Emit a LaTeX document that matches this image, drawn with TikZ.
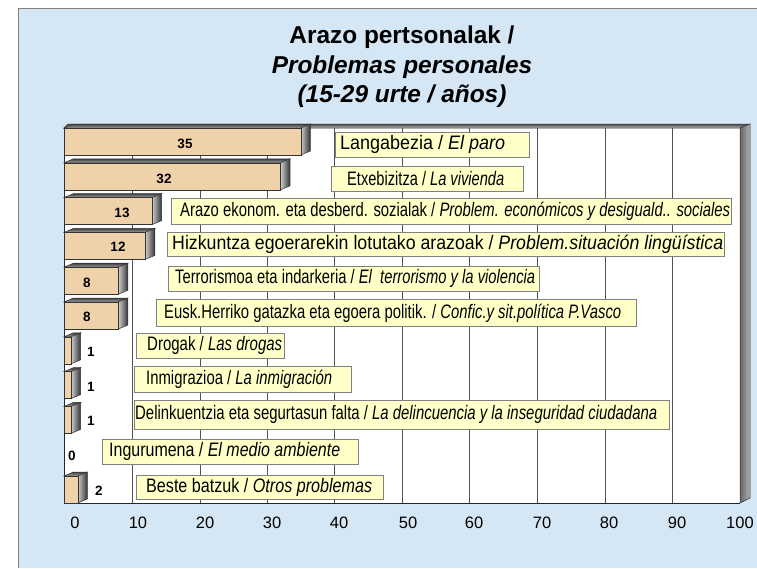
\documentclass[tikz,border=0pt]{standalone}
\usepackage{fontspec}
\setmainfont{Liberation Sans}
\usepackage{graphicx}
\usetikzlibrary{positioning}
\definecolor{bgColor}{HTML}{D5E6F4}
\definecolor{barColor}{HTML}{EFD2AA}
\definecolor{boxColor}{HTML}{FFFFC8}
\definecolor{gridColor}{HTML}{505050}

% 3d bar: #1 = top y, #2 = right x of the front face
\newcommand{\tdbar}[2]{%
  \shadedraw[bartop] (64,#1) -- (73.5,#1-4) -- (#2+9.5,#1-4) -- (#2,#1) -- cycle;
  \shadedraw[barside] (#2,#1) -- (#2+9.5,#1-4) -- (#2+9.5,#1+23) -- (#2,#1+27) -- cycle;
  \filldraw[barfront] (64,#1) rectangle (#2,#1+27);
}
% squeeze a label to a given width (pt), height kept
\newsavebox{\lblsave}
\newcommand{\lblfit}[2]{%
  \sbox{\lblsave}{#2}%
  \pgfmathsetmacro{\lblscale}{#1/\the\wd\lblsave}%
  \scalebox{\lblscale}[1]{\usebox{\lblsave}}%
}

\begin{document}
\begin{tikzpicture}[x=1pt,y=-1pt,
frame/.style={draw=black!50,line width=1pt},
gridline/.style={draw=gridColor,line width=0.8pt},
axisline/.style={draw=black!85,line width=1pt},
bartop/.style={draw=black!80,line width=0.5pt,top color=black!75,bottom color=black!35},
barside/.style={draw=black!80,line width=0.5pt,left color=black!20,right color=black!80},
barfront/.style={draw=black!80,line width=0.6pt,fill=barColor},
lblbox/.style={draw=black!50,fill=boxColor,line width=0.8pt,inner sep=0,anchor=north west},
lbltxt/.style={inner sep=0,font=\fontsize{19.5}{21}\selectfont},
vallbl/.style={inner sep=0,font=\fontsize{13.5}{15}\selectfont\bfseries},
ticklbl/.style={inner sep=0,font=\fontsize{16.5}{18}\selectfont}
]
\useasboundingbox (0,0) rectangle (757,568);
% background frame
\fill[bgColor] (18,8) rectangle (757,568);
\draw[frame] (18,568) -- (18,8) -- (757,8);

% title
\node[align=center,font=\fontsize{24.4}{29.5}\selectfont\bfseries] (title) at (402,67)
  {Arazo pertsonalak /\\ \textit{Problemas personales}\\ \textit{(15-29 urte / años)}};

% plot area and walls
\fill[white] (64,128) rectangle (740,503);
\shadedraw[draw=black!80,line width=0.5pt,top color=black!70,bottom color=black!30]
  (64,128) -- (68,124) -- (750,124) -- (740,128) -- cycle;
\shadedraw[draw=black!80,line width=0.5pt,left color=black!60,right color=black!30]
  (740,128) -- (750,124) -- (750,498) -- (740,503) -- cycle;
\draw[gridline] (132.3,128) -- (132.3,503) (199.9,128) -- (199.9,503)
  (267.0,128) -- (267.0,503) (334.6,128) -- (334.6,503) (402.2,128) -- (402.2,503)
  (469.8,128) -- (469.8,503) (537.3,128) -- (537.3,503) (604.9,128) -- (604.9,503)
  (672.6,128) -- (672.6,503);
\draw[axisline] (64,128) -- (64,503) -- (740,503);

% bars
\tdbar{128}{300.8}
\tdbar{162.8}{280.5}
\tdbar{197.6}{152.1}
\tdbar{232.4}{145.4}
\tdbar{267.2}{118.4}
\tdbar{302}{118.4}
\tdbar{336.8}{71.1}
\tdbar{371.6}{71.1}
\tdbar{406.4}{71.1}
\tdbar{476}{77.8}

% values
\node[vallbl] (v1) at (185,144) {35};
\node[vallbl] (v2) at (164,179) {32};
\node[vallbl] (v3) at (122,213) {13};
\node[vallbl] (v4) at (118,247) {12};
\node[vallbl] (v5) at (87,283) {8};
\node[vallbl] (v6) at (87,317) {8};
\node[vallbl] (v7) at (91,352) {1};
\node[vallbl] (v8) at (91,387) {1};
\node[vallbl] (v9) at (91,421) {1};
\node[vallbl] (v10) at (72,456) {0};
\node[vallbl] (v11) at (99,491) {2};

% label boxes
\node[lblbox,minimum width=194pt,minimum height=25pt] (b1) at (335,132) {};
\node[lbltxt,right=5pt of b1.west] (t1) {\lblfit{165}{Langabezia / \textit{El paro}}};
\node[lblbox,minimum width=192pt,minimum height=25pt] (b2) at (331,166) {};
\node[lbltxt,right=16pt of b2.west] (t2) {\lblfit{157}{Etxebizitza / \textit{La vivienda}}};
\node[lblbox,minimum width=560pt,minimum height=26pt] (b3) at (171,198) {};
\node[lbltxt,right=9pt of b3.west] (t3) {\lblfit{550}{Arazo ekonom. eta desberd. sozialak / \textit{Problem. económicos y desiguald.. sociales}}};
\node[lblbox,minimum width=557pt,minimum height=24pt] (b4) at (167,232) {};
\node[lbltxt,right=5pt of b4.west] (t4) {\lblfit{551}{Hizkuntza egoerarekin lotutako arazoak / \textit{Problem.situación lingüística}}};
\node[lblbox,minimum width=371pt,minimum height=25pt] (b5) at (168,266) {};
\node[lbltxt,right=7pt of b5.west] (t5) {\lblfit{360}{Terrorismoa eta indarkeria / \textit{El\ \ terrorismo y la violencia}}};
\node[lblbox,minimum width=480pt,minimum height=27pt] (b6) at (156,299) {};
\node[lbltxt,right=8pt of b6.west] (t6) {\lblfit{457}{Eusk.Herriko gatazka eta egoera politik. / \textit{Confic.y sit.política P.Vasco}}};
\node[lblbox,minimum width=148pt,minimum height=25pt] (b7) at (136,333) {};
\node[lbltxt,right=11pt of b7.west] (t7) {\lblfit{135}{Drogak / \textit{Las drogas}}};
\node[lblbox,minimum width=217pt,minimum height=26pt] (b8) at (134,366) {};
\node[lbltxt,right=12pt of b8.west] (t8) {\lblfit{186}{Inmigrazioa / \textit{La inmigración}}};
\node[lblbox,minimum width=535pt,minimum height=29pt] (b9) at (134,400) {};
\node[lbltxt,right=1pt of b9.west] (t9) {\lblfit{522}{Delinkuentzia eta segurtasun falta / \textit{La delincuencia y la inseguridad ciudadana}}};
\node[lblbox,minimum width=256pt,minimum height=25pt] (b10) at (102,439) {};
\node[lbltxt,right=7pt of b10.west] (t10) {\lblfit{231}{Ingurumena / \textit{El medio ambiente}}};
\node[lblbox,minimum width=247pt,minimum height=24pt] (b11) at (136,475) {};
\node[lbltxt,right=10pt of b11.west] (t11) {\lblfit{226}{Beste batzuk / \textit{Otros problemas}}};

% axis
\node[ticklbl] (x0) at (75,523) {0};
\node[ticklbl] (x10) at (138,523) {10};
\node[ticklbl] (x20) at (205,523) {20};
\node[ticklbl] (x30) at (272,523) {30};
\node[ticklbl] (x40) at (339,523) {40};
\node[ticklbl] (x50) at (408,523) {50};
\node[ticklbl] (x60) at (474,523) {60};
\node[ticklbl] (x70) at (542,523) {70};
\node[ticklbl] (x80) at (609,523) {80};
\node[ticklbl] (x90) at (677,523) {90};
\node[ticklbl] (x100) at (740,523) {100};
\end{tikzpicture}
\end{document}
